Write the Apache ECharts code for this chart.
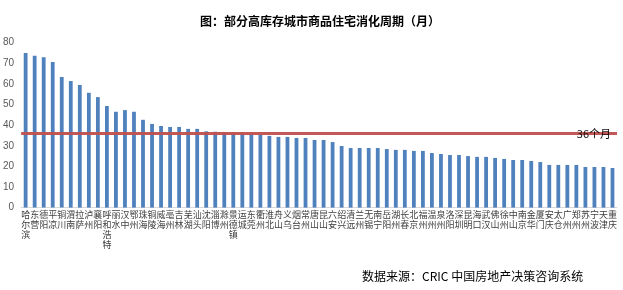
<!DOCTYPE html>
<html>
<head>
<meta charset="utf-8">
<script src="https://cdn.jsdelivr.net/npm/echarts@6/dist/echarts.min.js"></script>
<style>
html,body{margin:0;padding:0;background:#fff;}
#chart{width:623px;height:290px;}
</style>
</head>
<body>
<div id="chart"></div>
<script>
var titleText = '图：部分高库存城市商品住宅消化周期（月）';
var sourceText = '数据来源：CRIC 中国房地产决策咨询系统';
var cities = ['哈尔滨','东营','德阳','平凉','铜川','渭南','拉萨','泸州','襄阳','呼和浩特','丽水','汉中','鄂州','珠海','铜陵','威海','亳州','吉林','芜湖','汕头','沈阳','淄博','滁州','景德镇','运城','东莞','衢州','淮北','舟山','义乌','烟台','常州','唐山','昆山','六安','绍兴','清远','兰州','无锡','南宁','岳阳','湖州','长春','北京','福州','温州','泉州','洛阳','深圳','昆明','海口','武汉','佛山','徐州','中山','南京','金华','厦门','安庆','太仓','广州','郑州','苏州','宁波','天津','重庆'];
var months = [75.0,73.7,73.0,70.6,63.3,61.4,59.5,55.7,53.6,49.3,46.5,47.3,46.5,42.6,40.6,39.6,39.1,39.1,38.2,38.2,37.0,36.8,36.5,36.3,36.0,35.8,35.4,34.8,34.3,34.3,33.8,33.8,32.8,32.8,31.8,29.9,28.9,28.9,28.9,28.9,28.4,28.0,28.0,27.5,27.5,26.5,26.0,25.5,25.5,25.0,24.6,24.6,24.1,23.6,23.1,23.1,22.6,22.1,20.7,20.7,20.7,20.7,19.7,19.7,19.7,19.2];
var refLine = 36;
var refLabel = '36个月';
var yTicks = [0,10,20,30,40,50,60,70,80];

var chart = echarts.init(document.getElementById('chart'), null, {renderer:'canvas'});
var cjk = '"Noto Sans CJK SC", "Noto Sans", sans-serif';
chart.setOption({
  animation:false,
  backgroundColor:'#fff',
  title:[{
    text:titleText, left:315, top:10, textAlign:'center',
    textStyle:{fontFamily:cjk, fontSize:12, fontWeight:'bold', color:'#000'}
  },{
    text:sourceText, left:357, top:265,
    textStyle:{fontFamily:cjk, fontSize:12, fontWeight:'normal', color:'#000'}
  }],
  grid:{left:20.5, right:6, top:42.7, bottom:82.4, containLabel:false},
  xAxis:{
    type:'category', data:cities,
    axisLine:{lineStyle:{color:'#d9d9d9'}},
    axisTick:{show:false},
    axisLabel:{
      interval:0, margin:2, fontSize:9, lineHeight:10, color:'#404040',
      fontFamily:cjk,
      formatter:function(v){return v.split('').join('\n');}
    }
  },
  yAxis:{
    type:'value', min:yTicks[0], max:yTicks[yTicks.length-1], interval:10,
    axisLine:{show:false}, axisTick:{show:false}, splitLine:{show:false},
    axisLabel:{fontSize:10, color:'#595959', margin:7, fontFamily:'"Liberation Sans", Arial, sans-serif'}
  },
  series:[{
    type:'bar', data:months, barWidth:3.8,
    itemStyle:{color:'#4f81bd'},
    markLine:{
      silent:true, symbol:'none',
      lineStyle:{color:'#c0504d', width:3, type:'solid', opacity:0.95},
      label:{show:true, position:'insideEnd', distance:6, formatter:refLabel,
        color:'#000', fontSize:11, fontFamily:cjk},
      data:[{yAxis:refLine}]
    }
  }]
});
</script>
</body>
</html>
